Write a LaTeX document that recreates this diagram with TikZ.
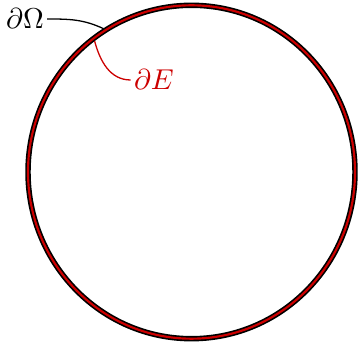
\documentclass[tikz,border=0pt]{standalone}
\usepackage{amsmath,amssymb}
\usepackage{xcolor}
\usepackage{tikz}
\usetikzlibrary{calc}
\definecolor{bdred}{HTML}{CC0000}

\begin{document}
\begin{tikzpicture}[x=0.3481pt,y=0.3481pt,
    tag/.style={inner sep=1pt},
    leader/.style={line width=0.45pt}]
  \useasboundingbox (-191.5,-171) rectangle (167.5,172);
  \draw[line width=1.9pt] (0,0) ellipse [x radius=163.5, y radius=166.7];
  \draw[bdred,line width=0.75pt] (0,0) ellipse [x radius=163.5, y radius=166.7];
  \coordinate (pO) at (122:166 and 169);
  \coordinate (pE) at (127:161 and 164);
  \node[tag] (dO) at (-166.5,153) {$\partial\Omega$};
  \node[tag,text=bdred] (dE) at (-37.5,92) {$\partial E$};
  \draw[leader] (dO.east) to[out=0,in=155] (pO);
  \draw[leader,bdred] (dE.west) to[out=180,in=-75] (pE);
\end{tikzpicture}
\end{document}
